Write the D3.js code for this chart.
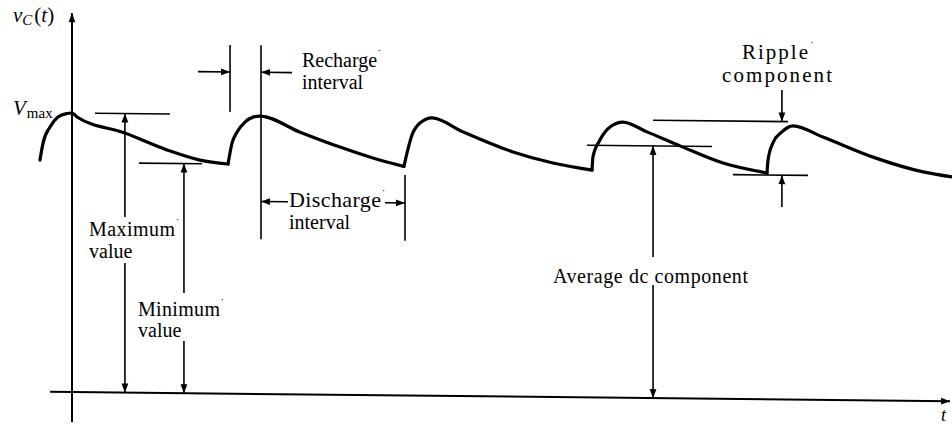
<!DOCTYPE html>
<html>
<head>
<meta charset="utf-8">
<script src="https://cdn.jsdelivr.net/npm/d3@7"></script>
<style>
  body { margin: 0; background: #fff; }
  svg { display: block; font-family: "Liberation Serif", "DejaVu Serif", serif; }
</style>
</head>
<body>
<svg id="chart" width="952" height="424"></svg>
<script>
// capacitor voltage v_C(t) (t in arbitrary units, Vmax = 10)
const waveT = [-1.78, -1.61, -1.22, -0.78, -0.28, 0, 0.28, 2.94, 5.28, 7.11, 8.67,
  8.89, 9.17, 9.61, 10.06, 10.44, 12.67, 14.89, 16.72, 18.44,
  18.61, 18.89, 19.33, 20, 21.72, 24.5, 26.72, 28.89,
  28.94, 29.33, 29.89, 30.61, 31.94, 33.78, 36.17, 38.61,
  38.67, 38.94, 39.44, 40.06, 41.72, 44.5, 47.28, 48.89];
const waveV = [8.30, 8.91, 9.49, 9.85, 9.98, 10, 9.86, 9.30, 8.71, 8.36, 8.23,
  8.98, 9.38, 9.74, 9.92, 9.96, 9.40, 8.88, 8.50, 8.21,
  8.69, 9.34, 9.77, 9.96, 9.47, 8.77, 8.39, 8.15,
  8.62, 9.23, 9.70, 9.88, 9.54, 9.05, 8.45, 8.11,
  8.58, 9.19, 9.59, 9.81, 9.42, 8.72, 8.21, 8.04];
// index of each trough (the curve has a sharp corner there)
const troughIdx = [10, 19, 27, 35];

// horizontal guide lines: max level, min level, average dc, ripple top, ripple bottom
const guideT0 = [1.28, 3.72, 28.61, 32.28, 36.72];
const guideT1 = [5.44, 7.22, 35.56, 39.78, 40.89];
const guideV  = [10, 8.23, 9.04, 9.96, 8.04];

// interval boundary lines (recharge start, recharge end / discharge start, discharge end)
const boundT  = [8.78, 10.5, 18.5];
const boundV0 = [10.1, 5.55, 7.9];
const boundV1 = [12.5, 12.5, 5.55];

// arrows, from (t0,v0) to the head at (t1,v1)
const arrowT0 = [2.94, 2.94, 6.22, 6.22, 32.28, 32.28, 7.0, 12.22, 12.0, 17.39, 39.44, 39.44];
const arrowV0 = [6.29, 4.64, 3.59, 1.87, 5.06, 4.05, 11.53, 11.53, 6.9, 6.9, 11.09, 6.9];
const arrowT1 = [2.94, 2.94, 6.22, 6.22, 32.28, 32.28, 8.78, 10.5, 10.5, 18.5, 39.44, 39.44];
const arrowV1 = [10, 0, 8.23, 0, 9.04, 0, 11.53, 11.53, 6.9, 6.9, 9.96, 8.04];

// axes extents
const axisT = [-1.22, 48.78];
const axisV = [-1.08, 13.58];

const svg = d3.select("#chart");

const x = d3.scaleLinear().domain([0, 10]).range([72, 252]);
const y = d3.scaleLinear().domain([0, 10]).range([392, 113]);

// the scanned figure is slightly skewed, so shear the drawing a little
const skew = Math.atan(0.0105) * 180 / Math.PI;
const g = svg.append("g")
  .attr("transform", `translate(${x(0)},${y(0)}) skewY(${skew}) translate(${-x(0)},${-y(0)})`);

const defs = svg.append("defs");
defs.append("marker")
  .attr("id", "head")
  .attr("markerUnits", "userSpaceOnUse")
  .attr("viewBox", "-10 -5 11 10")
  .attr("refX", 0).attr("refY", 0)
  .attr("markerWidth", 11).attr("markerHeight", 10)
  .attr("orient", "auto")
  .append("path")
  .attr("d", "M0,0L-9,-3.4L-9,3.4Z")
  .attr("fill", "#000");

// axes
g.append("line")
  .attr("x1", x(0)).attr("y1", y(axisV[0]))
  .attr("x2", x(0)).attr("y2", y(axisV[1]))
  .attr("stroke", "#000").attr("stroke-width", 2)
  .attr("marker-end", "url(#head)");
g.append("line")
  .attr("x1", x(axisT[0])).attr("y1", y(0))
  .attr("x2", x(axisT[1])).attr("y2", y(0))
  .attr("stroke", "#000").attr("stroke-width", 2)
  .attr("marker-end", "url(#head)");

// waveform, one piece per cycle so the troughs stay sharp
const pts = waveT.map((t, i) => [t, waveV[i]]);
const cuts = [0, ...troughIdx, pts.length - 1];
const segs = d3.pairs(cuts).map(([a, b]) => pts.slice(a, b + 1));
const line = d3.line()
  .x(d => x(d[0]))
  .y(d => y(d[1]))
  .curve(d3.curveMonotoneX);
g.append("g")
  .selectAll("path")
  .data(segs)
  .join("path")
  .attr("d", line)
  .attr("fill", "none")
  .attr("stroke", "#000")
  .attr("stroke-width", 3.2)
  .attr("stroke-linejoin", "round")
  .attr("stroke-linecap", "round");

// guide lines
g.append("g")
  .selectAll("line")
  .data(guideV)
  .join("line")
  .attr("x1", (d, i) => x(guideT0[i]))
  .attr("x2", (d, i) => x(guideT1[i]))
  .attr("y1", d => y(d))
  .attr("y2", d => y(d))
  .attr("stroke", "#000")
  .attr("stroke-width", 1.6);

// interval boundaries
g.append("g")
  .selectAll("line")
  .data(boundT)
  .join("line")
  .attr("x1", d => x(d))
  .attr("x2", d => x(d))
  .attr("y1", (d, i) => y(boundV0[i]))
  .attr("y2", (d, i) => y(boundV1[i]))
  .attr("stroke", "#000")
  .attr("stroke-width", 1.6);

// arrows
g.append("g")
  .selectAll("line")
  .data(arrowT0)
  .join("line")
  .attr("x1", d => x(d))
  .attr("y1", (d, i) => y(arrowV0[i]))
  .attr("x2", (d, i) => x(arrowT1[i]))
  .attr("y2", (d, i) => y(arrowV1[i]))
  .attr("stroke", "#000")
  .attr("stroke-width", 1.6)
  .attr("marker-end", "url(#head)");

// text labels: word, x, baseline, trailing mark, font size, stretched width (0 = natural)
const labels = [
  ["Recharge", 302, 67, true, 20, 0], ["interval", 302, 89, false, 20, 0],
  ["Discharge", 289, 207, true, 22, 92], ["interval", 289, 229, false, 20, 0],
  ["Maximum", 89, 236, true, 20, 86], ["value", 89, 258, false, 20, 0],
  ["Minimum", 138, 316, true, 20, 82], ["value", 138, 337, false, 20, 0],
  ["Ripple", 742, 59, true, 21, 66], ["component", 722, 82, false, 21, 110]
];
const lab = svg.append("g")
  .selectAll("text")
  .data(labels)
  .join("text")
  .attr("x", d => d[1])
  .attr("y", d => d[2])
  .attr("font-size", d => d[4]);
lab.append("tspan")
  .attr("textLength", d => d[5] || null)
  .attr("lengthAdjust", d => d[5] ? "spacing" : null)
  .text(d => d[0]);
lab.filter(d => d[3]).append("tspan")
  .attr("dy", -9).attr("font-size", 12).text("\u02D9");

svg.append("text")
  .attr("x", 553).attr("y", 283)
  .attr("font-size", 20)
  .attr("textLength", 195)
  .attr("lengthAdjust", "spacing")
  .text("Average dc component");

// axis titles
const vc = svg.append("text").attr("x", 13).attr("y", 22).attr("font-size", 21);
vc.append("tspan").attr("font-style", "italic").text("v");
vc.append("tspan").attr("font-style", "italic").attr("font-size", 15).attr("dy", 3).text("C");
vc.append("tspan").attr("dy", -3).attr("dx", 2).text("(");
vc.append("tspan").attr("font-style", "italic").text("t");
vc.append("tspan").text(")");

const vm = svg.append("text").attr("x", 13).attr("y", 115).attr("font-size", 21);
vm.append("tspan").attr("font-style", "italic").text("V");
vm.append("tspan").attr("font-size", 15).attr("dy", 3).attr("dx", 1).text("max");

svg.append("text")
  .attr("x", 941).attr("y", 421)
  .attr("font-size", 18)
  .attr("font-style", "italic")
  .text("t");
</script>
</body>
</html>
